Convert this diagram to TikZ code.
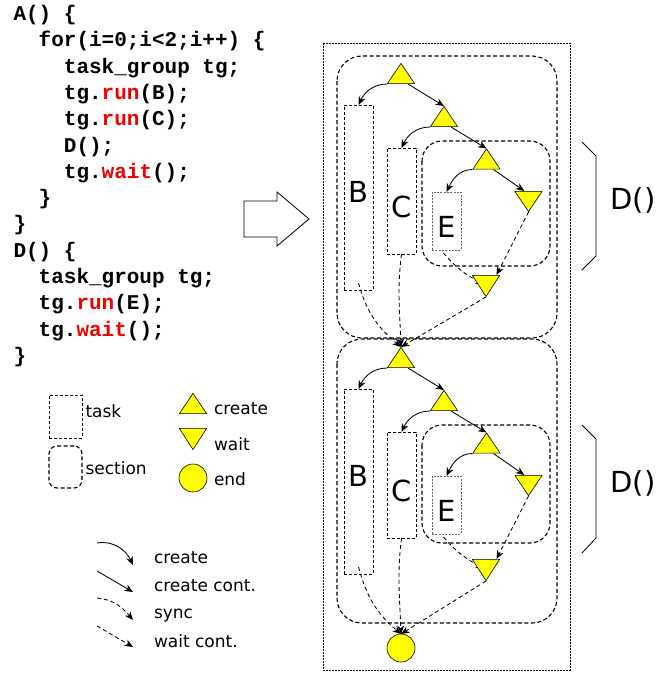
\documentclass[tikz,border=0pt]{standalone}
\usepackage{fontspec}
\setmainfont{DejaVu Sans}
\newfontfamily\codefont{Liberation Mono}
\usetikzlibrary{arrows.meta,calc,backgrounds}
\definecolor{tokyellow}{RGB}{255,255,0}
\definecolor{kwred}{RGB}{240,0,0}
\newcommand{\kw}[1]{\textcolor{kwred}{#1}}
\tikzset{
  x=1pt, y=1pt,
  >={Stealth[length=8.5pt,width=7pt]},
  every node/.style={inner sep=0pt, outer sep=0pt},
  codeline/.style={anchor=base west, font=\codefont\bfseries\fontsize{21}{21}\selectfont},
  legtext/.style={anchor=base west, font=\fontsize{17}{17}\selectfont},
  biglabel/.style={font=\fontsize{29}{29}\selectfont},
  taskbox/.style={draw, dash pattern=on 3pt off 2pt, line width=1pt},
  subtask/.style={draw=black!60, dash pattern=on 2pt off 1.3pt, line width=0.9pt},
  secbox/.style={draw, dash pattern=on 4pt off 2.5pt, line width=1.1pt, rounded corners=#1},
  outerbox/.style={draw, dash pattern=on 2pt off 1pt, line width=0.9pt},
  mkup/.style={minimum width=28pt, minimum height=21pt, path picture={
    \draw[fill=tokyellow, line width=0.6pt, line join=round]
      ([shift={(0.35pt,0.35pt)}]path picture bounding box.south west) --
      ([shift={(-0.35pt,0.35pt)}]path picture bounding box.south east) --
      ([shift={(0pt,-0.4pt)}]path picture bounding box.north) -- cycle;}},
  mkdown/.style={minimum width=28pt, minimum height=21pt, path picture={
    \draw[fill=tokyellow, line width=0.6pt, line join=round]
      ([shift={(0.35pt,-0.35pt)}]path picture bounding box.north west) --
      ([shift={(-0.35pt,-0.35pt)}]path picture bounding box.north east) --
      ([shift={(0pt,0.4pt)}]path picture bounding box.south) -- cycle;}},
  endc/.style={circle, draw, line width=0.6pt, fill=tokyellow, minimum size=28pt},
  crt/.style={->, line width=0.85pt},
  syn/.style={->, line width=0.85pt, dash pattern=on 4pt off 3pt},
}
\begin{document}
\begin{tikzpicture}
\useasboundingbox (0,0) rectangle (667,-673);

% ---- source code ----
\foreach \lv/\txt [count=\k] in {
  0/{A() \{},
  1/{for(i=0;i<2;i++) \{},
  2/{task\_group tg;},
  2/{tg.\kw{run}(B);},
  2/{tg.\kw{run}(C);},
  2/{D();},
  2/{tg.\kw{wait}();},
  1/{\}},
  0/{\}},
  0/{D() \{},
  1/{task\_group tg;},
  1/{tg.\kw{run}(E);},
  1/{tg.\kw{wait}();},
  0/{\}}}
  \node[codeline] (code\k) at ({13.5+25.2*\lv}, {-20.5-26.3*(\k-1)}) {\txt};

% ---- translation arrow ----
\draw[line width=0.8pt, fill=white] (244,-201) -- (277,-201) -- (277,-192) -- (309,-219)
  -- (277,-246) -- (277,-237) -- (244,-237) -- cycle;

% ---- outer frame ----
\draw[outerbox] (323,-43) rectangle (570,-670);

% ---- the two loop iterations ----
\foreach \i/\dy/\st/\sb/\ib in {1/0/56/338/266, 2/284/339/623/543} {
  \draw[secbox=25pt] (337,-\st) rectangle (557,-\sb);
  \draw[secbox=20pt] (422,-141-\dy) rectangle (550,-\ib);
  \node[taskbox, minimum width=29pt, minimum height=185pt] (B\i) at (358.5,-197.5-\dy) {};
  \node[taskbox, minimum width=29pt, minimum height=106pt] (C\i) at (401.5,-201-\dy) {};
  \node[subtask, minimum width=29pt, minimum height=58pt] (E\i) at (446.5,-221-\dy) {};
  \node[biglabel] (Bl\i) at (358.5,-192-\dy) {B};
  \node[biglabel] (Cl\i) at (401.5,-207-\dy) {C};
  \node[biglabel] (El\i) at (446.5,-227-\dy) {E};
  \node[mkup] (ta\i) at (401,-73.5-\dy) {};
  \node[mkup] (tb\i) at (444,-116.5-\dy) {};
  \node[mkup] (tc\i) at (486.5,-159-\dy) {};
  \node[mkdown] (wa\i) at (528.5,-201.5-\dy) {};
  \node[mkdown, minimum height=22pt] (wb\i) at (486,-286-\dy) {};
}
\node[endc] (fin) at (401,-648) {};

% ---- connectors ----
\begin{scope}[on background layer]
\foreach \i/\nx in {1/ta2, 2/fin} {
  \draw[crt] (ta\i.south west) to[out=180,in=65] (B\i.north);
  \draw[crt] ($(ta\i.south)!0.5!(ta\i.south east)$) -- (tb\i.north);
  \draw[crt] (tb\i.south west) to[out=180,in=65] (C\i.north);
  \draw[crt] ($(tb\i.south)!0.5!(tb\i.south east)$) -- (tc\i.north);
  \draw[crt] (tc\i.south west) to[out=180,in=65] (E\i.north);
  \draw[crt] ($(tc\i.south)!0.5!(tc\i.south east)$) -- ($(wa\i.north)!0.3!(wa\i.north west)$);
  \draw[syn] (wa\i.south) -- ($(wb\i.north)!0.75!(wb\i.north east)$);
  \draw[syn, shorten >=2pt] ([xshift=-3pt,yshift=-3pt]E\i.south) to[out=-50,in=150] (wb\i.center);
  \draw[syn] ([yshift=7pt]B\i.south) to[out=-75,in=140] (\nx.north);
  \draw[syn] (C\i.south) to[out=-97,in=92] (\nx.north);
  \draw[syn] (wb\i.south) -- (\nx.north);
}
\end{scope}

% ---- D() brackets ----
\draw[line width=0.8pt] (582,-142) -- (596,-156) -- (596,-256) -- (582,-270);
\node[biglabel] (dlab1) at (633,-200) {D()};
\draw[line width=0.8pt] (582,-425) -- (596,-439) -- (596,-538) -- (582,-553);
\node[biglabel] (dlab2) at (633,-483) {D()};

% ---- shape legend ----
\node[taskbox, minimum width=33pt, minimum height=43pt] (lgt) at (65.5,-416.5) {};
\node[legtext] (lgtt) at (85.5,-417) {task};
\node[secbox=8pt, minimum width=33pt, minimum height=42pt] (lgs) at (65.5,-467) {};
\node[legtext] (lgst) at (85.5,-474) {section};
\node[mkup] (lgc) at (193,-403.5) {};
\node[legtext] (lgct) at (214,-414) {create};
\node[mkdown, minimum height=22pt] (lgw) at (193,-439) {};
\node[legtext] (lgwt) at (214,-450) {wait};
\node[endc] (lge) at (193,-478) {};
\node[legtext] (lget) at (214,-485) {end};

% ---- connector legend ----
\coordinate (la1) at (97,-543);  \coordinate (lb1) at (133,-565);
\coordinate (la2) at (97,-571);  \coordinate (lb2) at (133,-592);
\coordinate (la3) at (97,-598);  \coordinate (lb3) at (133,-620);
\coordinate (la4) at (97,-626);  \coordinate (lb4) at (133,-647);
\draw[crt] (la1) to[out=10,in=115] (lb1);
\draw[crt] (la2) -- (lb2);
\draw[syn] (la3) to[out=-5,in=130] (lb3);
\draw[syn] (la4) -- (lb4);
\node[legtext] (lt1) at (154,-563) {create};
\node[legtext] (lt2) at (154,-591) {create cont.};
\node[legtext] (lt3) at (154,-618) {sync};
\node[legtext] (lt4) at (154,-647) {wait cont.};
\end{tikzpicture}
\end{document}
